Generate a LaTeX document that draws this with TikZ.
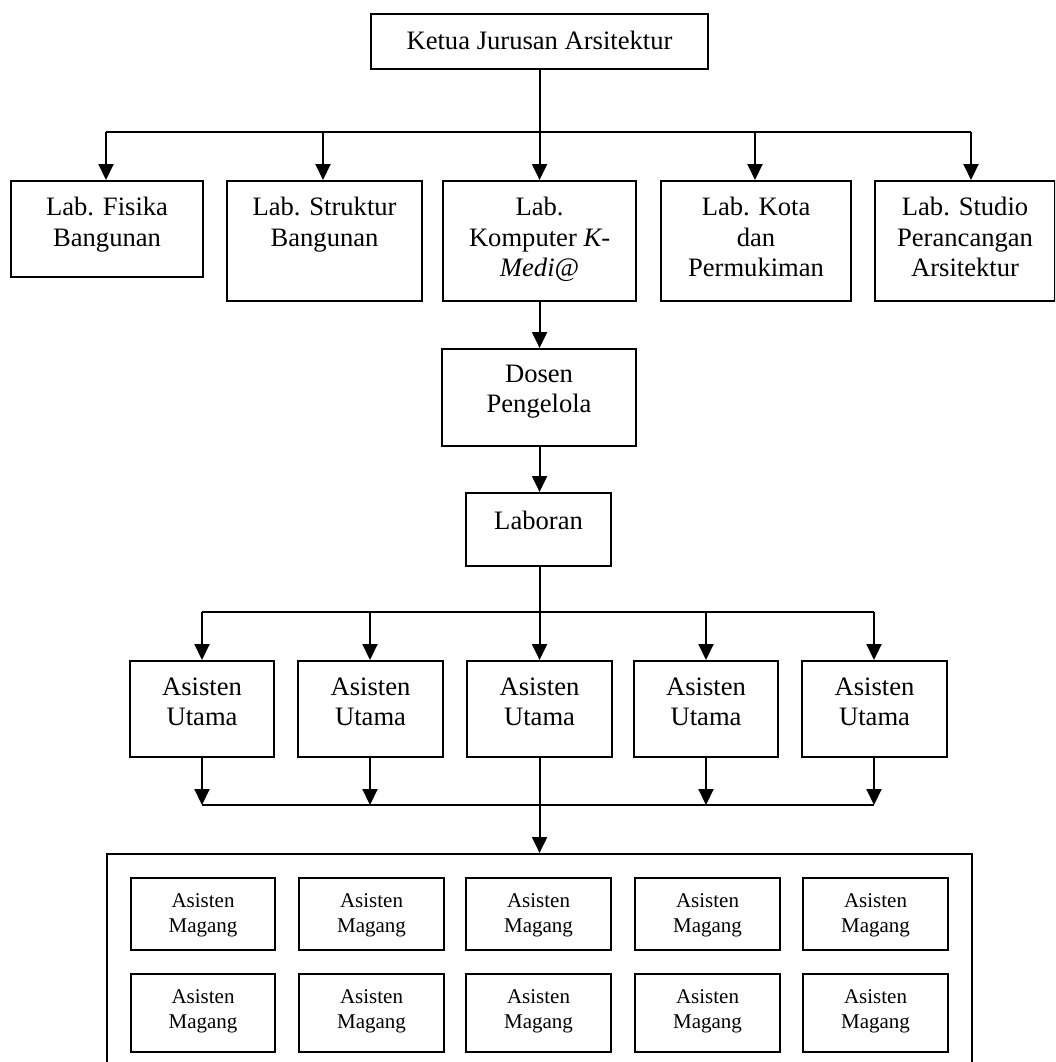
\documentclass[tikz,border=0pt]{standalone}
\usepackage{fontspec}
\setmainfont{Liberation Serif}
\usetikzlibrary{arrows.meta}
\tikzset{
  obox/.style={draw, rectangle, line width=2.1pt, inner sep=0pt},
  txt/.style={align=center, inner sep=0pt, anchor=north, font=\fontsize{26.6}{30.5}\selectfont},
  smalltxt/.style={align=center, inner sep=0pt, anchor=north, font=\fontsize{21}{25}\selectfont},
  conn/.style={line width=2.1pt},
  arr/.style={line width=2.1pt, -{Triangle[length=16pt,width=15pt]}},
}
% box: name, x1, y1, x2, y2 (pixel-like units, y downward)
\newcommand\obox[5]{\node[obox, minimum width={(#4-#2)*1pt}, minimum height={(#5-#3)*1pt}, anchor=north west] (#1) at (#2,#3) {};}
% text in box: name, offset from top, style, text
\newcommand\otext[4]{\node[#3] (#1-t) at ([yshift=-#2pt]#1.north) {#4};}
\begin{document}
\begin{tikzpicture}[x=1pt, y=-1pt]
\clip (0,0) rectangle (1055,1062);
\fill[white] (0,0) rectangle (1055,1062);

% top
\obox{ketua}{370}{13}{707}{68}
\otext{ketua}{18}{txt}{Ketua Jurusan Arsitektur}

% labs
\obox{fisika}{10}{180}{202}{276}
\otext{fisika}{17}{txt}{Lab. Fisika\\Bangunan}
\obox{struktur}{226}{180}{421}{300}
\otext{struktur}{17}{txt}{Lab. Struktur\\Bangunan}
\obox{komputer}{442}{180}{635}{300}
\otext{komputer}{17}{txt}{Lab.\\Komputer \textit{K-}\\\textit{Medi@}}
\obox{kota}{660}{180}{850}{300}
\otext{kota}{17}{txt}{Lab. Kota\\dan\\Permukiman}
\obox{studio}{874}{180}{1054}{300}
\otext{studio}{17}{txt}{Lab. Studio\\Perancangan\\Arsitektur}

% middle chain
\obox{dosen}{441}{348}{635}{445}
\otext{dosen}{16.5}{txt}{Dosen\\Pengelola}
\obox{laboran}{465}{492}{610}{565}
\otext{laboran}{19}{txt}{Laboran}

% asisten utama
\obox{u1}{129}{660}{273}{756}
\obox{u2}{297}{660}{442}{756}
\obox{u3}{466}{660}{611}{756}
\obox{u4}{633}{660}{777}{756}
\obox{u5}{801}{660}{946}{756}
\foreach \n in {u1,u2,u3,u4,u5}{\otext{\n}{17.5}{txt}{Asisten\\Utama}}

% big box with asisten magang
\obox{big}{106}{853}{971}{1075}
\obox{m11}{130}{877}{274}{949}
\obox{m12}{298}{877}{443}{949}
\obox{m13}{465}{877}{610}{949}
\obox{m14}{634}{877}{779}{949}
\obox{m15}{802}{877}{947}{949}
\obox{m21}{130}{973}{274}{1051}
\obox{m22}{298}{973}{443}{1051}
\obox{m23}{465}{973}{610}{1051}
\obox{m24}{634}{973}{779}{1051}
\obox{m25}{802}{973}{947}{1051}
\foreach \n in {m11,m12,m13,m14,m15,m21,m22,m23,m24,m25}{\otext{\n}{16}{smalltxt}{Asisten\\Magang}}

% top bus
\coordinate (t1) at (106,132);
\coordinate (t2) at (323,132);
\coordinate (t4) at (755,132);
\coordinate (t5) at (971,132);
\draw[conn] (t1) -- (t5);
\draw[arr] (ketua.south) -- (komputer.north);
\draw[arr] (t1) -- (t1 |- fisika.north);
\draw[arr] (t2) -- (t2 |- struktur.north);
\draw[arr] (t4) -- (t4 |- kota.north);
\draw[arr] (t5) -- (t5 |- studio.north);

% chain
\draw[arr] (komputer.south) -- (dosen.north -| komputer.south);
\draw[arr] (dosen.south -| komputer.south) -- (laboran.north -| komputer.south);

% utama bus
\coordinate (a1) at (202,612);
\coordinate (a2) at (370,612);
\coordinate (a4) at (706,612);
\coordinate (a5) at (874,612);
\draw[conn] (a1) -- (a5);
\draw[arr] (laboran.south -| komputer.south) -- (u3.north -| komputer.south);
\draw[arr] (a1) -- (a1 |- u1.north);
\draw[arr] (a2) -- (a2 |- u2.north);
\draw[arr] (a4) -- (a4 |- u4.north);
\draw[arr] (a5) -- (a5 |- u5.north);

% bottom bus
\coordinate (c1) at (202,805);
\coordinate (c2) at (370,805);
\coordinate (c4) at (706,805);
\coordinate (c5) at (874,805);
\draw[conn] (c1) -- (c5);
\draw[arr] (u1.south -| c1) -- (c1);
\draw[arr] (u2.south -| c2) -- (c2);
\draw[arr] (u4.south -| c4) -- (c4);
\draw[arr] (u5.south -| c5) -- (c5);
\draw[arr] (u3.south -| komputer.south) -- (big.north -| komputer.south);
\end{tikzpicture}
\end{document}
